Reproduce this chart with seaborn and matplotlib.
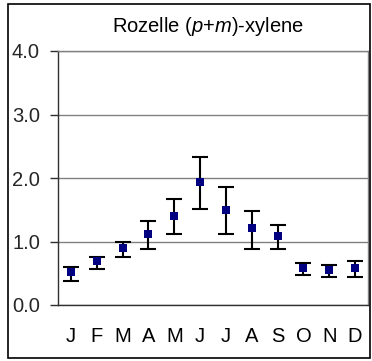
import matplotlib
matplotlib.use("Agg")
import matplotlib.pyplot as plt
import numpy as np
import pandas as pd
import seaborn as sns
from matplotlib.patches import Rectangle

months = ["J", "F", "M", "A", "M", "J", "J", "A", "S", "O", "N", "D"]
mean_vals = [0.52, 0.69, 0.90, 1.12, 1.40, 1.94, 1.50, 1.21, 1.09, 0.58, 0.55, 0.58]
upper_vals = [0.60, 0.76, 1.00, 1.32, 1.67, 2.33, 1.86, 1.48, 1.26, 0.66, 0.63, 0.69]
lower_vals = [0.38, 0.57, 0.76, 0.88, 1.12, 1.51, 1.12, 0.88, 0.88, 0.47, 0.44, 0.44]

sns.set_theme(style="white")
plt.rcParams["font.family"] = ["Liberation Sans", "DejaVu Sans"]
plt.rcParams["mathtext.fontset"] = "custom"
plt.rcParams["mathtext.it"] = "Liberation Sans:italic"
plt.rcParams["mathtext.rm"] = "Liberation Sans"

df = pd.DataFrame({"pos": np.arange(len(months)), "mean": mean_vals,
                   "upper": upper_vals, "lower": lower_vals})

fig = plt.figure(figsize=(3.72, 3.61), dpi=100)
ax = fig.add_axes([58 / 372, 1 - 305 / 361, 310 / 372, 254 / 361])

yerr = [df["mean"] - df["lower"], df["upper"] - df["mean"]]
ax.errorbar(df["pos"], df["mean"], yerr=yerr, fmt="none", ecolor="black",
            elinewidth=1.5, capsize=5.5, capthick=1.5, zorder=3)
sns.scatterplot(data=df, x="pos", y="mean", marker="s", s=28, color="#000080",
                edgecolor="#000080", linewidth=0, ax=ax, zorder=4)

ax.set_xlim(-0.5, len(months) - 0.5)
ax.set_ylim(0, 4)
ax.set_yticks([0, 1, 2, 3, 4])
ax.set_yticklabels(["0.0", "1.0", "2.0", "3.0", "4.0"])
ax.set_xticks(np.arange(len(months)))
ax.set_xticklabels(months)
ax.set_xticks(np.arange(len(months) + 1) - 0.5, minor=True)
ax.set_xlabel("")
ax.set_ylabel("")
ax.grid(axis="y", color="#808080", linewidth=1)
ax.set_axisbelow(True)

ax.tick_params(axis="x", which="major", length=0, pad=16, labelsize=14.5, colors="black")
ax.tick_params(axis="x", which="minor", length=5, width=1, color="#303030", direction="out")
ax.tick_params(axis="y", length=6, width=1, color="#303030", direction="out",
               labelsize=14.5, pad=7, left=True)

for side in ["left", "bottom"]:
    ax.spines[side].set_color("#303030")
    ax.spines[side].set_linewidth(1)
for side in ["top", "right"]:
    ax.spines[side].set_visible(True)
    ax.spines[side].set_color("#808080")
    ax.spines[side].set_linewidth(1)

fig.text(208 / 372, 1 - 27 / 361, r"Rozelle ($p$+$m$)-xylene", ha="center", va="center",
         fontsize=14.5, color="black")

fig.patches.append(Rectangle((8 / 372, 3 / 361), 362 / 372, 354 / 361, transform=fig.transFigure,
                             fill=False, edgecolor="black", linewidth=1.2))

fig.savefig("out.png", dpi=100)
